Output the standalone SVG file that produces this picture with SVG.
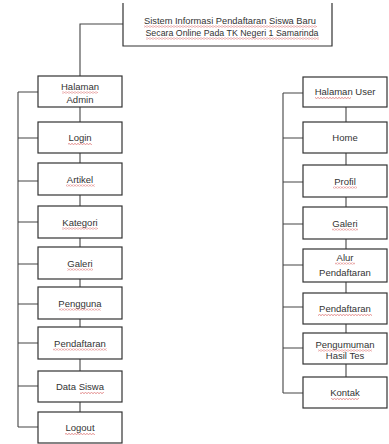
<svg xmlns="http://www.w3.org/2000/svg" width="389" height="444" viewBox="0 0 389 444">
<style>
.b{fill:#fff;stroke:#333;stroke-width:1.2}
.c{fill:none;stroke:#444;stroke-width:1.1}
text{font-family:"Liberation Sans",Arial,sans-serif;font-size:9.5px;fill:#333;text-anchor:middle}
.u{fill:url(#w)}
</style>
<defs>
<pattern id="w" width="3" height="2" patternUnits="userSpaceOnUse"><path d="M0,1.6 L1.5,0.4 L3,1.6" stroke="#d04040" stroke-width="0.6" fill="none"/></pattern>
</defs>
<rect width="389" height="444" fill="#fff"/>
<g id="connectors" class="c">
<path d="M123,24 H80 V76"/>
<path d="M80,107 V412"/>
<path d="M18,92 V427 M18,92 H38 M18,138 H38 M18,181 H38 M18,222 H38 M18,264 H38 M18,304 H38 M18,343 H38 M18,386 H38 M18,427 H38"/>
<path d="M346,107 V377"/>
<path d="M283,93 V393 M283,93 H303 M283,138 H303 M283,182 H303 M283,224 H303 M283,265 H303 M283,307 H303 M283,348 H303 M283,393 H303"/>
</g>
<g id="root">
<path d="M123,3 V46 H332 V3" fill="#fff" stroke="#333" stroke-width="1.2"/>
<text x="230" y="24" textLength="172" lengthAdjust="spacingAndGlyphs">Sistem Informasi Pendaftaran Siswa Baru</text>
<text x="232" y="36" textLength="173" lengthAdjust="spacingAndGlyphs">Secara Online Pada TK Negeri 1 Samarinda</text>
<rect class="u" x="144" y="25.5" width="173" height="2"/>
<rect class="u" x="146" y="37.5" width="173" height="2"/>
</g>
<g id="admin"><rect class="b" x="38" y="76" width="84" height="31"/><text x="80" y="90">Halaman</text><text x="80" y="103">Admin</text><rect class="u" x="62" y="91.5" width="36" height="2"/></g>
<g id="login"><rect class="b" x="38" y="122" width="84" height="31"/><text x="80" y="141">Login</text><rect class="u" x="68" y="143" width="24" height="2"/></g>
<g id="artikel"><rect class="b" x="38" y="163" width="84" height="32"/><text x="80" y="182.5">Artikel</text><rect class="u" x="66" y="184.5" width="29" height="2"/></g>
<g id="kategori"><rect class="b" x="38" y="206" width="84" height="32"/><text x="80" y="225.5">Kategori</text><rect class="u" x="62" y="227.5" width="36" height="2"/></g>
<g id="galeri-a"><rect class="b" x="38" y="247" width="84" height="32"/><text x="80" y="266.5">Galeri</text><rect class="u" x="67" y="268.5" width="26" height="2"/></g>
<g id="pengguna"><rect class="b" x="38" y="287" width="84" height="32"/><text x="80" y="306.5">Pengguna</text><rect class="u" x="59" y="308.5" width="42" height="2"/></g>
<g id="pendaftaran-a"><rect class="b" x="38" y="327" width="84" height="32"/><text x="80" y="346.5">Pendaftaran</text><rect class="u" x="53" y="348.5" width="54" height="2"/></g>
<g id="datasiswa"><rect class="b" x="38" y="371" width="84" height="31"/><text x="80" y="390">Data Siswa</text><rect class="u" x="80" y="392" width="24" height="2"/></g>
<g id="logout"><rect class="b" x="38" y="412" width="84" height="31"/><text x="80" y="431">Logout</text><rect class="u" x="65" y="433" width="30" height="2"/></g>
<g id="user"><rect class="b" x="303" y="77" width="84" height="30"/><text x="345" y="95">Halaman User</text><rect class="u" x="315" y="97" width="36" height="2"/></g>
<g id="home"><rect class="b" x="303" y="122" width="84" height="31"/><text x="345" y="141">Home</text></g>
<g id="profil"><rect class="b" x="303" y="165" width="84" height="32"/><text x="345" y="184.5">Profil</text><rect class="u" x="333" y="186.5" width="24" height="2"/></g>
<g id="galeri-u"><rect class="b" x="303" y="207" width="84" height="32"/><text x="345" y="226.5">Galeri</text><rect class="u" x="332" y="228.5" width="26" height="2"/></g>
<g id="alur"><rect class="b" x="303" y="249" width="84" height="33"/><text x="345" y="261">Alur</text><text x="345" y="275.5">Pendaftaran</text><rect class="u" x="335" y="262.5" width="20" height="2"/></g>
<g id="pendaftaran-u"><rect class="b" x="303" y="293" width="84" height="31"/><text x="345" y="312">Pendaftaran</text><rect class="u" x="318" y="314" width="54" height="2"/></g>
<g id="pengumuman"><rect class="b" x="303" y="333" width="84" height="31"/><text x="345" y="347.5">Pengumuman</text><text x="345" y="358.5">Hasil Tes</text><rect class="u" x="318" y="349.5" width="54" height="2"/></g>
<g id="kontak"><rect class="b" x="303" y="377" width="84" height="31"/><text x="345" y="396">Kontak</text><rect class="u" x="331" y="398" width="28" height="2"/></g>
</svg>
